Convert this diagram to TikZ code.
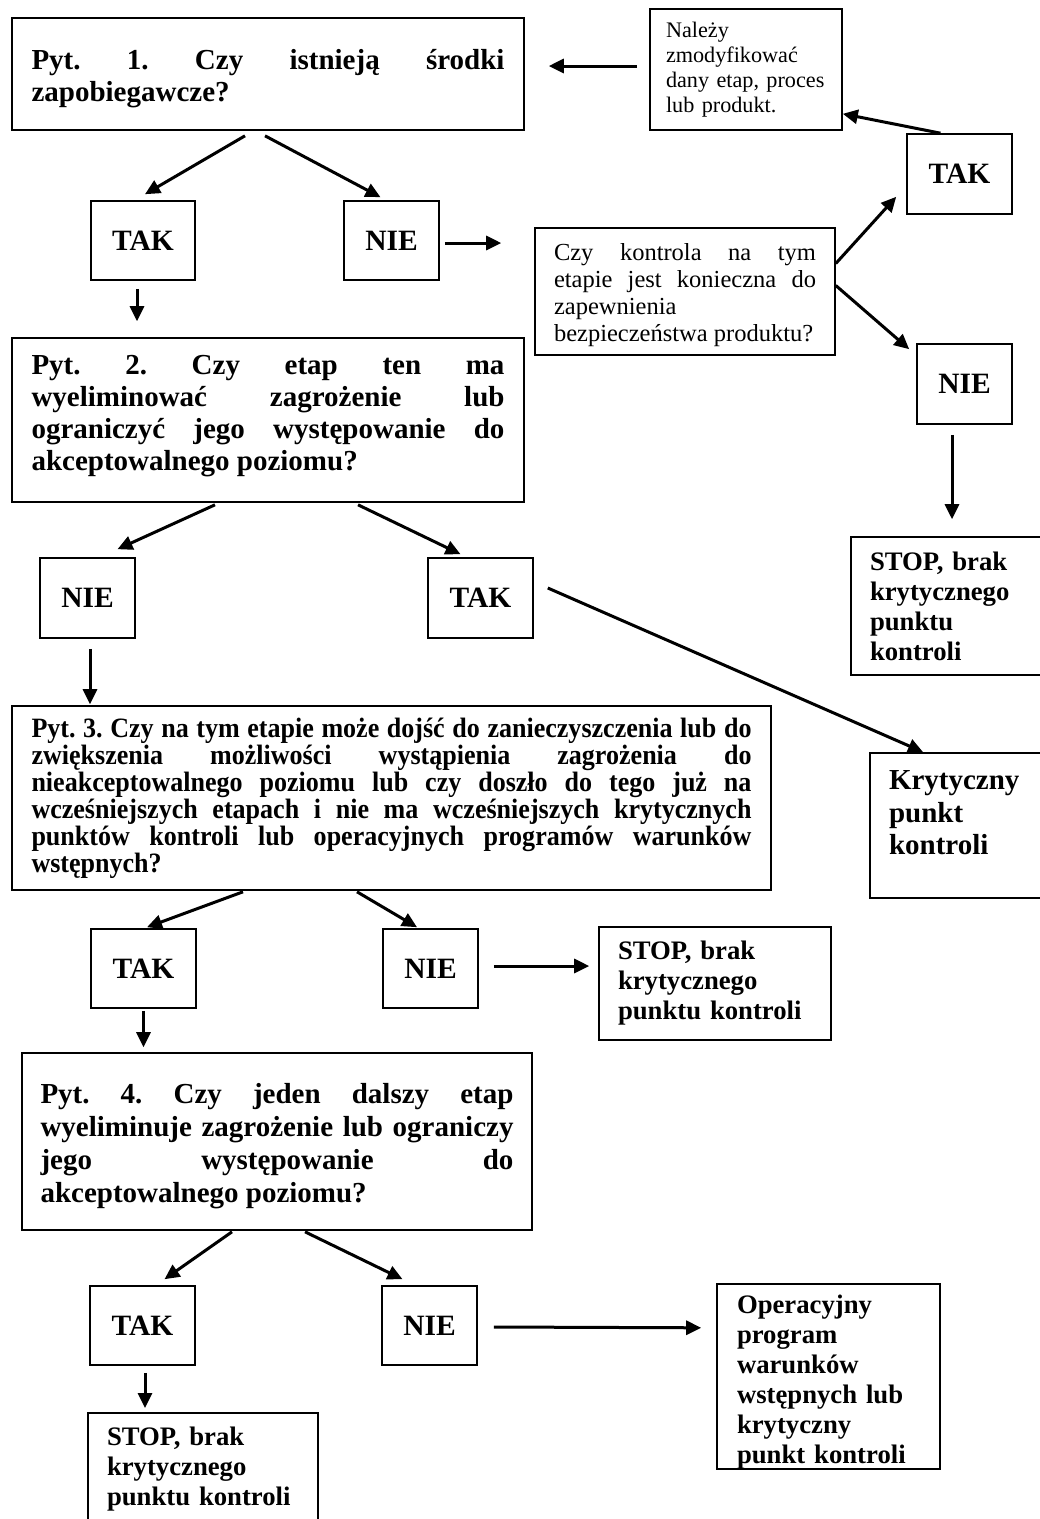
\documentclass[tikz,border=0pt]{standalone}
\usepackage{fontspec}
\setmainfont{Liberation Serif}
\newfontfamily\narrowserif[FakeStretch=0.93]{Liberation Serif}
\usetikzlibrary{arrows.meta}

\tikzset{
	box/.style={draw, line width=1.6pt, rectangle, inner ysep=0pt},
	qbox/.style={box, font=\fontsize{29}{32}\selectfont\bfseries, align=justify},
	ansbox/.style={box, font=\fontsize{29.5}{32}\selectfont\bfseries, minimum height=79pt},
	stopbox/.style={box, font=\fontsize{26.7}{30}\selectfont\bfseries, align=left},
	arr/.style={line width=3pt, -{Triangle[length=15pt,width=14pt]}}
}

\begin{document}
\frenchspacing
\begin{tikzpicture}[x=1pt, y=-1pt]
		\useasboundingbox (0,0) rectangle (1040,1519);

		% questions
		\node[qbox, text width=473pt, inner xsep=19.5pt, minimum height=112pt, text height=30pt] (q1) at (268,74) {Pyt. 1. Czy istnieją środki\linebreak zapobiegawcze?};
		\node[qbox, text width=473pt, inner xsep=19.5pt, minimum height=164pt, text height=12pt] (q2) at (268,420) {Pyt. 2. Czy etap ten ma\linebreak wyeliminować zagrożenie lub\linebreak ograniczyć jego występowanie do\linebreak akceptowalnego poziomu?};
		\node[box, font=\narrowserif\fontsize{28}{27}\selectfont\bfseries, align=justify, text width=720pt, inner xsep=19.5pt, minimum height=184pt] (q3) at (391.5,798) {Pyt. 3. Czy na tym etapie może dojść do zanieczyszczenia lub do\linebreak zwiększenia możliwości wystąpienia zagrożenia do\linebreak nieakceptowalnego poziomu lub czy doszło do tego już na\linebreak wcześniejszych etapach i nie ma wcześniejszych krytycznych\linebreak punktów kontroli lub operacyjnych programów warunków\linebreak wstępnych?};
		\node[qbox, font=\fontsize{29}{33}\selectfont\bfseries, text width=473pt, inner xsep=18.5pt, minimum height=177pt, text height=30pt] (q4) at (277,1141.5) {Pyt. 4. Czy jeden dalszy etap\linebreak wyeliminuje zagrożenie lub ograniczy\linebreak jego występowanie do\linebreak akceptowalnego poziomu?};

		% side boxes
		\node[box, font=\fontsize{22.2}{25}\selectfont, align=left, text width=160pt, inner xsep=16pt, minimum height=121pt] (note) at (746,69.5) {Należy\\zmodyfikować\\dany etap, proces\\lub produkt.};
		\node[box, font=\fontsize{24.5}{27}\selectfont, align=justify, text width=262pt, inner xsep=19pt, minimum height=127pt, text height=25pt] (ctrl) at (685,291.5) {Czy kontrola na tym\linebreak etapie jest konieczna do\linebreak zapewnienia\\bezpieczeństwa produktu?};

		% answers
		\node[ansbox, minimum width=104pt] (t1) at (143,240.5) {TAK};
		\node[ansbox, minimum width=95pt] (n1) at (391.5,240.5) {NIE};
		\node[ansbox, minimum width=105pt, minimum height=80pt] (tr) at (959.5,174) {TAK};
		\node[ansbox, minimum width=95pt, minimum height=80pt] (nr) at (964.5,384) {NIE};
		\node[ansbox, minimum width=95pt, minimum height=80pt] (n2) at (87.5,598) {NIE};
		\node[ansbox, minimum width=105pt, minimum height=80pt] (t2) at (480.5,598) {TAK};
		\node[ansbox, minimum width=105pt] (t3) at (143.5,968.5) {TAK};
		\node[ansbox, minimum width=95pt] (n3) at (430.5,968.5) {NIE};
		\node[ansbox, minimum width=105pt] (t4) at (142.5,1325.5) {TAK};
		\node[ansbox, minimum width=95pt] (n4) at (429.5,1325.5) {NIE};

		% results
		\node[stopbox, text width=167pt, inner xsep=19pt, minimum height=138pt] (stopr) at (953.5,606) {STOP, brak\\krytycznego\\punktu\\kontroli};
		\node[box, font=\fontsize{29}{32.5}\selectfont\bfseries, align=left, text width=152pt, inner xsep=19pt, inner ysep=18pt, text depth=90pt, anchor=north] (krit) at (965,752) {Krytyczny\\punkt\\kontroli};
		\node[stopbox, text width=194pt, inner xsep=19pt, minimum height=113pt] (stopm) at (715,983.5) {STOP, brak\\krytycznego\\punktu kontroli};
		\node[stopbox, text width=183pt, inner xsep=20pt, inner ysep=5pt, text height=25pt, text depth=150pt, anchor=north] (oper) at (828.5,1283) {Operacyjny\\program\\warunków\\wstępnych lub\\krytyczny\\punkt kontroli};
		\node[stopbox, text width=192pt, inner xsep=19pt, inner ysep=14pt, text depth=84pt, anchor=north] (stopb) at (203,1412) {STOP, brak\\krytycznego\\punktu kontroli};

		% arrows
		\draw[arr] ([xshift=-12pt,yshift=3.5pt]note.west) -- ([xshift=24pt,yshift=8pt]q1.east);
		\draw[arr] ([xshift=-23pt,yshift=-5pt]q1.south) -- ([xshift=2pt,yshift=6pt]t1.north);
		\draw[arr] ([xshift=-3pt,yshift=-5pt]q1.south) -- ([xshift=-11pt,yshift=3pt]n1.north);
		\draw[arr] ([xshift=5pt,yshift=-2.5pt]n1.east) -- ([xshift=-33pt,yshift=48.5pt]ctrl.west);
		\draw[arr] ([yshift=28pt]ctrl.east) -- ([xshift=-10pt,yshift=18pt]tr.south west);
		\draw[arr] ([xshift=-19pt]tr.north) -- ([yshift=17pt]note.south east);
		\draw[arr] ([yshift=6pt]ctrl.east) -- ([xshift=-7pt,yshift=-6pt]nr.north west);
		\draw[arr] ([xshift=-12.5pt,yshift=-10pt]nr.south) -- ([xshift=-1.5pt,yshift=17pt]stopr.north);
		\draw[arr] ([xshift=-6pt,yshift=-8pt]t1.south) -- ([xshift=-131pt,yshift=16pt]q2.north);

		\draw[arr] ([xshift=-53pt,yshift=-2pt]q2.south) -- ([xshift=30pt,yshift=8pt]n2.north);
		\draw[arr] ([xshift=90pt,yshift=-2pt]q2.south) -- ([xshift=-20pt,yshift=3pt]t2.north);
		\draw[arr] ([xshift=14pt,yshift=10pt]t2.east) -- ([xshift=-42pt]krit.north);
		\draw[arr] ([xshift=2.5pt,yshift=-10pt]n2.south) -- ([xshift=-301.5pt,yshift=1pt]q3.north);

		\draw[arr] ([xshift=-148.5pt,yshift=-1pt]q3.south) -- ([xshift=3.5pt,yshift=1pt]t3.north);
		\draw[arr] ([xshift=-34.5pt,yshift=-1pt]q3.south) -- ([xshift=-13.5pt,yshift=1pt]n3.north);
		\draw[arr] ([xshift=15pt,yshift=2.5pt]n3.east) -- ([xshift=-9pt,yshift=17.5pt]stopm.west);
		\draw[arr] ([yshift=-2pt]t3.south) -- ([xshift=-133.5pt,yshift=5pt]q4.north);

		\draw[arr] ([xshift=-45pt,yshift=-1pt]q4.south) -- ([xshift=22pt,yshift=6pt]t4.north);
		\draw[arr] ([xshift=28pt,yshift=-1pt]q4.south) -- ([xshift=-27pt,yshift=6pt]n4.north);
		\draw[arr] ([xshift=16pt,yshift=-1.5pt]n4.east) -- ([xshift=-15pt,yshift=48.5pt]oper.west);
		\draw[arr] ([xshift=2.5pt,yshift=-7pt]t4.south) -- ([xshift=-58pt,yshift=4pt]stopb.north);
	\end{tikzpicture}
\end{document}
